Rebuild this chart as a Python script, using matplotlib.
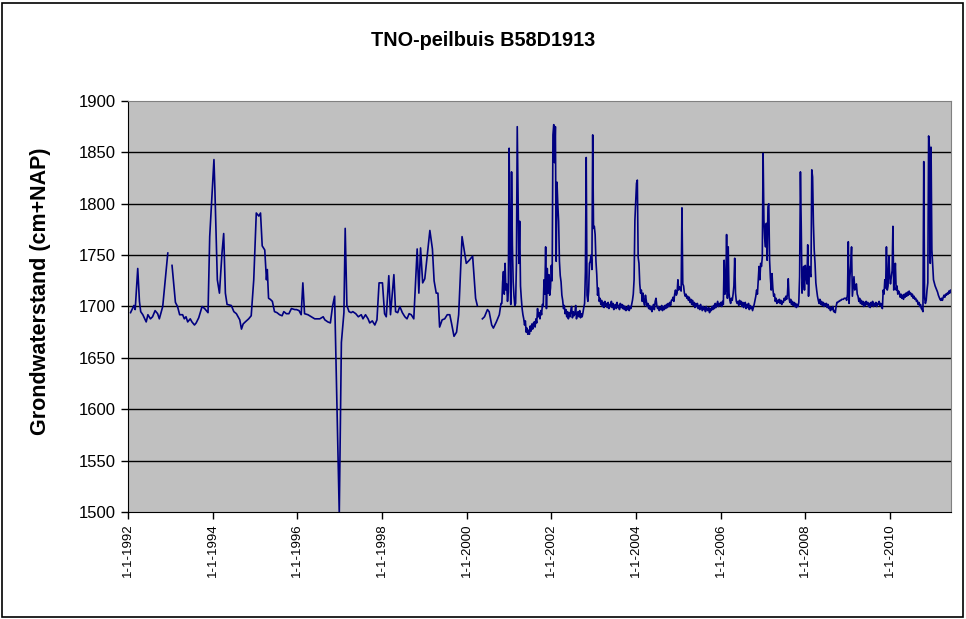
import numpy as np
import pandas as pd
import matplotlib
matplotlib.use('Agg')
import matplotlib.pyplot as plt
from matplotlib.patches import Rectangle

plt.rcParams['font.family'] = ['Liberation Sans', 'DejaVu Sans']

# handmetingen (ongeveer om de twee weken), decimal years, nan = gat in de reeks
hand_years = [
    1992.06, 1992.14, 1992.17, 1992.23, 1992.27, 1992.30, 1992.35, 1992.43, 1992.47, 1992.53,
    1992.58, 1992.64, 1992.70, 1992.74, 1992.82, 1992.94, 1992.99, 1993.04, 1993.12, 1993.17,
    1993.22, 1993.29, 1993.33, 1993.37, 1993.41, 1993.47, 1993.51, 1993.57, 1993.61, 1993.67,
    1993.75, 1993.81, 1993.89, 1993.93, 1994.03, 1994.05, 1994.11, 1994.16, 1994.22, 1994.26,
    1994.30, 1994.34, 1994.44, 1994.50, 1994.56, 1994.64, 1994.68, 1994.72, 1994.77, 1994.85,
    1994.91, 1994.97, 1995.03, 1995.09, 1995.13, 1995.17, 1995.23, 1995.27, 1995.29, 1995.32,
    1995.36, 1995.41, 1995.46, 1995.52, 1995.58, 1995.64, 1995.68, 1995.74, 1995.80, 1995.86,
    1995.94, 1995.98, 1996.04, 1996.09, 1996.13, 1996.17, 1996.25, 1996.33, 1996.41, 1996.53,
    1996.61, 1996.65, 1996.72, 1996.78, 1996.83, 1996.88, 1996.99, 1997.04, 1997.10, 1997.13,
    1997.17, 1997.22, 1997.27, 1997.31, 1997.38, 1997.44, 1997.51, 1997.55, 1997.61, 1997.67,
    1997.71, 1997.77, 1997.83, 1997.88, 1997.93, 1998.01, 1998.06, 1998.10, 1998.16, 1998.20,
    1998.28, 1998.32, 1998.37, 1998.42, 1998.48, 1998.54, 1998.59, 1998.64, 1998.69, 1998.75,
    1998.83, 1998.87, 1998.91, 1998.96, 1999.01, 1999.13, 1999.19, 1999.23, 1999.28, 1999.32,
    1999.36, 1999.42, 1999.48, 1999.54, 1999.60, 1999.64, 1999.70, 1999.76, 1999.81, 1999.89,
    1999.99, 2000.06, 2000.14, 2000.21, 2000.25, 2000.31, 2000.37, 2000.42, 2000.49, 2000.53,
    2000.59, 2000.63, 2000.70, 2000.77, 2000.81,
]
hand_levels = [
    1694, 1701, 1697, 1737, 1705, 1695, 1692, 1685, 1692, 1688,
    1690, 1696, 1693, 1688, 1700, 1752, np.nan, 1740, 1704, 1700,
    1692, 1692, 1688, 1690, 1685, 1688, 1685, 1682, 1684, 1689,
    1700, 1698, 1694, 1768, 1843, 1817, 1726, 1713, 1752, 1771,
    1713, 1702, 1701, 1695, 1693, 1687, 1678, 1683, 1685, 1688,
    1691, 1726, 1791, 1788, 1791, 1759, 1755, 1726, 1736, 1708,
    1707, 1705, 1695, 1694, 1692, 1691, 1695, 1693, 1693, 1698,
    1697, 1697, 1696, 1692, 1723, 1693, 1692, 1690, 1688, 1688,
    1690, 1687, 1685, 1684, 1700, 1710, 1498, 1665, 1694, 1776,
    1701, 1695, 1694, 1695, 1693, 1690, 1692, 1688, 1692, 1688,
    1684, 1686, 1682, 1687, 1723, 1723, 1693, 1690, 1730, 1692,
    1731, 1695, 1694, 1700, 1694, 1690, 1688, 1693, 1692, 1688,
    1756, 1713, 1757, 1723, 1727, 1774, 1756, 1725, 1713, 1713,
    1680, 1687, 1688, 1692, 1692, 1684, 1671, 1675, 1692, 1768,
    1742, 1745, 1749, 1708, 1701, np.nan, 1688, 1690, 1697, 1695,
    1682, 1679, 1685, 1692, 1703,
]

# diver-metingen, een waarde per week vanaf 30-10-2000
diver_start = '2000-10-30'
diver_levels = [
    1703, 1724, 1734, 1712, 1742, 1716, 1722, 1705, 1714, 1854,
    1763, 1702, 1831, 1760, 1724, 1710, 1701, 1703, 1742, 1875,
    1812, 1742, 1783, 1720, 1708, 1698, 1692, 1688, 1682, 1686,
    1675, 1679, 1673, 1677, 1673, 1681, 1676, 1683, 1678, 1684,
    1685, 1680, 1688, 1684, 1698, 1690, 1694, 1688, 1696, 1692,
    1702, 1700, 1726, 1712, 1758, 1698, 1737, 1713, 1731, 1711,
    1718, 1740, 1725, 1867, 1877, 1840, 1875, 1744, 1821, 1799,
    1783, 1744, 1730, 1724, 1711, 1706, 1698, 1701, 1693, 1697,
    1690, 1695, 1688, 1694, 1690, 1696, 1700, 1689, 1695, 1691,
    1693, 1701, 1688, 1692, 1695, 1690, 1696, 1689, 1693, 1690,
    1694, 1699, 1703, 1734, 1845, 1711, 1705, 1715, 1742, 1744,
    1750, 1736, 1867, 1776, 1778, 1770, 1744, 1731, 1711, 1718,
    1705, 1708, 1702, 1706, 1700, 1704, 1699, 1705, 1701, 1703,
    1699, 1704, 1698, 1702, 1700, 1705, 1699, 1703, 1697, 1701,
    1702, 1698, 1704, 1699, 1701, 1697, 1703, 1699, 1702, 1698,
    1701, 1697, 1700, 1696, 1699, 1697, 1701, 1696, 1700, 1698,
    1702, 1706, 1712, 1726, 1784, 1802, 1820, 1823, 1748, 1742,
    1722, 1713, 1716, 1705, 1713, 1704, 1701, 1711, 1706, 1700,
    1703, 1698, 1701, 1697, 1700, 1695, 1699, 1702, 1697, 1705,
    1708, 1701, 1698, 1700, 1696, 1699, 1697, 1701, 1696, 1700,
    1697, 1701, 1698, 1702, 1699, 1703, 1700, 1704, 1701, 1706,
    1706, 1709, 1705, 1712, 1716, 1711, 1713, 1726, 1716, 1719,
    1718, 1715, 1796, 1722, 1720, 1713, 1710, 1712, 1708, 1710,
    1706, 1709, 1704, 1707, 1702, 1706, 1701, 1704, 1699, 1703,
    1700, 1703, 1698, 1701, 1697, 1702, 1699, 1696, 1700, 1697,
    1699, 1695, 1700, 1697, 1696, 1699, 1694, 1698, 1696, 1700,
    1697, 1701, 1698, 1703, 1699, 1702, 1705, 1700, 1703, 1701,
    1704, 1700, 1705, 1702, 1745, 1712, 1718, 1770, 1708, 1758,
    1713, 1706, 1703, 1708, 1706, 1712, 1720, 1747, 1713, 1705,
    1703, 1705, 1701, 1706, 1702, 1705, 1700, 1704, 1699, 1702,
    1704, 1698, 1702, 1699, 1703, 1697, 1701, 1698, 1700, 1696,
    1699, 1702, 1706, 1710, 1716, 1712, 1725, 1739, 1726, 1742,
    1739, 1748, 1849, 1784, 1766, 1758, 1781, 1745, 1797, 1800,
    1745, 1728, 1716, 1732, 1718, 1710, 1712, 1705, 1708, 1703,
    1706, 1704, 1707, 1703, 1706, 1702, 1705, 1704, 1708, 1706,
    1710, 1707, 1712, 1727, 1708, 1704, 1707, 1702, 1705, 1701,
    1704, 1700, 1703, 1699, 1702, 1700, 1704, 1729, 1831, 1778,
    1713, 1725, 1739, 1716, 1740, 1730, 1722, 1760, 1710, 1739,
    1732, 1729, 1833, 1826, 1781, 1755, 1742, 1723, 1716, 1710,
    1706, 1703, 1707, 1702, 1705, 1701, 1704, 1700, 1703, 1701,
    1703, 1699, 1702, 1698, 1700, 1696, 1699, 1697, 1700, 1695,
    1696, 1694, 1700, 1704, 1704, 1705, 1705, 1706, 1706, 1707,
    1707, 1707, 1708, 1708, 1708, 1706, 1712, 1763, 1703, 1729,
    1740, 1758, 1710, 1720, 1729, 1716, 1720, 1722, 1712, 1710,
    1705, 1708, 1703, 1706, 1702, 1705, 1700, 1704, 1701, 1705,
    1702, 1704, 1700, 1703, 1699, 1704, 1701, 1705, 1700, 1703,
    1701, 1704, 1700, 1703, 1702, 1705, 1701, 1703, 1700, 1698,
    1716, 1712, 1726, 1718, 1758, 1716, 1720, 1749, 1730, 1722,
    1729, 1735, 1778, 1716, 1725, 1742, 1716, 1720, 1712, 1715,
    1713, 1709, 1712, 1708, 1711, 1707, 1712, 1709, 1713, 1710,
    1714, 1711, 1715, 1712, 1713, 1710, 1712, 1708, 1710, 1707,
    1708, 1705, 1706, 1702, 1704, 1700, 1702, 1698, 1697, 1695,
    1841, 1709, 1703, 1706, 1716, 1723, 1866, 1855, 1742, 1855,
    1755, 1740, 1726, 1723, 1720, 1718, 1716, 1714, 1711, 1709,
    1707, 1706, 1708, 1706, 1709, 1711, 1709, 1712, 1711, 1713,
    1712, 1715, 1713, 1716, 1714,
]

tick_years = [1992, 1994, 1996, 1998, 2000, 2002, 2004, 2006, 2008, 2010]
tick_labels = ['1-1-' + str(y) for y in tick_years]
y_ticks = [1500, 1550, 1600, 1650, 1700, 1750, 1800, 1850, 1900]


def decyear_to_date(yrs):
    yrs = np.asarray(yrs, dtype=float)
    return pd.Timestamp('1992-01-01') + pd.to_timedelta((yrs - 1992) * 365.25, unit='D')


hand_dates = decyear_to_date(hand_years)
diver_dates = pd.date_range(diver_start, periods=len(diver_levels), freq='7D')

dates = list(hand_dates) + list(diver_dates)
levels = hand_levels + diver_levels

fig = plt.figure(figsize=(9.66, 6.19), dpi=100)
fig.patch.set_facecolor('white')
fig.patches.append(Rectangle((2 / 966, 2 / 619), 961 / 966, 614 / 619, transform=fig.transFigure,
                             fill=False, edgecolor='black', linewidth=1.2))

ax = fig.add_axes([128 / 966, 1 - 512 / 619, 823 / 966, 411 / 619])
ax.set_facecolor('#C0C0C0')
ax.plot(dates, levels, color='#000080', linewidth=1.2)

ax.set_ylim(1500, 1900)
ax.set_yticks(y_ticks)
ax.set_xlim(pd.Timestamp('1992-01-01'), pd.Timestamp('2011-06-10'))
ax.set_xticks([pd.Timestamp(str(y) + '-01-01') for y in tick_years])
ax.set_xticklabels(tick_labels, rotation=90, fontsize=9.5)
ax.tick_params(axis='y', labelsize=12, direction='out', length=5, width=1)
ax.tick_params(axis='x', direction='out', length=5, width=1)

for v in y_ticks[1:-1]:
    ax.axhline(v, color='black', linewidth=1.0, zorder=1)

for side in ['top', 'right']:
    ax.spines[side].set_color('#808080')
ax.spines['left'].set_color('black')
ax.spines['bottom'].set_color('black')

ax.set_ylabel('Grondwaterstand (cm+NAP)', fontsize=15.5, fontweight='bold')
ax.yaxis.set_label_coords(-0.093, 0.538)
fig.text(483 / 966, 1 - 40 / 619, 'TNO-peilbuis B58D1913', ha='center', va='center',
         fontsize=14.3, fontweight='bold')

fig.savefig('out.png', dpi=100)
